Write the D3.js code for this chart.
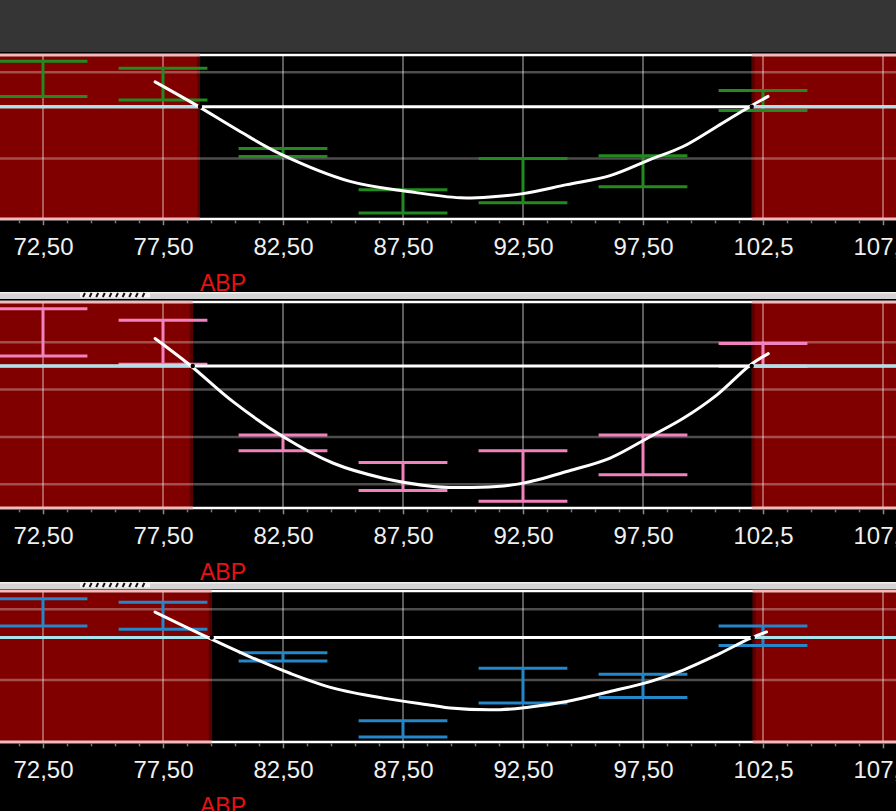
<!DOCTYPE html>
<html><head><meta charset="utf-8">
<script src="https://cdn.jsdelivr.net/npm/d3@7"></script>
<style>html,body{margin:0;padding:0;background:#000;overflow:hidden}</style>
</head><body><svg id="chart" width="896" height="811"></svg>
<script>
// ---------- data ----------
const xTickValues = [72.5, 77.5, 82.5, 87.5, 92.5, 97.5, 102.5, 107.5];
const xTickLabels = ["72,50", "77,50", "82,50", "87,50", "92,50", "97,50", "102,5", "107,5"];
const xMinorTicks = [70.5,71.5,73.5,74.5,75.5,76.5,78.5,79.5,80.5,81.5,83.5,84.5,85.5,86.5,88.5,89.5,90.5,91.5,93.5,94.5,95.5,96.5,98.5,99.5,100.5,101.5,103.5,104.5,105.5,106.5];
const axisTitle = "ABP";
const threshold = 0.3;
const binCenters = [72.5, 77.5, 82.5, 87.5, 92.5, 97.5, 102.5];
const binHalfWidth = 1.85;

// panel 1 (green)
const p1Upper = [0.564, 0.523, 0.058, -0.181, 0.000, 0.017, 0.395];
const p1Lower = [0.360, 0.339, 0.012, -0.315, -0.256, -0.163, 0.279];
const p1CurveX = [77.17, 78.90, 80.71, 82.45, 85.29, 87.79, 89.88, 91.25, 92.50, 94.33, 96.13, 97.79, 99.17, 100.58, 101.96, 102.71];
const p1CurveY = [0.444, 0.308, 0.157, 0.023, -0.132, -0.192, -0.227, -0.221, -0.203, -0.151, -0.099, -0.006, 0.070, 0.186, 0.302, 0.360];
const p1Limits = [79.04, 102.03];
const p1YDomain = [-0.35, 0.6];
const p1Grid = [0, 0.5];

// panel 2 (pink)
const p2Upper = [0.542, 0.493, 0.008, -0.108, -0.058, 0.008, 0.395];
const p2Lower = [0.342, 0.307, -0.058, -0.226, -0.272, -0.160, 0.299];
const p2CurveX = [77.17, 78.63, 80.43, 82.51, 84.60, 86.68, 88.76, 89.46, 91.40, 92.51, 94.32, 96.13, 97.79, 99.18, 100.57, 101.96, 102.72];
const p2CurveY = [0.416, 0.303, 0.148, 0.001, -0.111, -0.174, -0.209, -0.213, -0.209, -0.195, -0.146, -0.089, 0.001, 0.079, 0.177, 0.303, 0.352];
const p2Limits = [78.74, 102.03];
const p2YDomain = [-0.3, 0.57];
const p2Grid = [-0.2, 0, 0.2, 0.4];

// panel 3 (blue)
const p3Upper = [0.575, 0.551, 0.192, -0.289, 0.082, 0.040, 0.382];
const p3Lower = [0.382, 0.359, 0.134, -0.404, -0.164, -0.125, 0.244];
const p3CurveX = [77.17, 79.32, 81.13, 82.79, 84.60, 86.68, 88.76, 89.46, 91.54, 92.65, 94.32, 96.13, 97.79, 99.18, 100.57, 101.96, 102.65];
const p3CurveY = [0.481, 0.305, 0.164, 0.047, -0.058, -0.129, -0.181, -0.199, -0.211, -0.195, -0.153, -0.082, -0.012, 0.070, 0.176, 0.294, 0.340];
const p3Limits = [79.53, 102.07];
const p3YDomain = [-0.44, 0.63];
const p3Grid = [0, 0.5];

// ---------- layout / style ----------
const W = 896, H = 811;
const panels = [
  {top: 55, bottom: 219, color: "#238a1f", upper: p1Upper, lower: p1Lower, cx: p1CurveX, cy: p1CurveY, limits: p1Limits, domain: p1YDomain, grid: p1Grid},
  {top: 302, bottom: 508, color: "#f282be", upper: p2Upper, lower: p2Lower, cx: p2CurveX, cy: p2CurveY, limits: p2Limits, domain: p2YDomain, grid: p2Grid},
  {top: 591, bottom: 742, color: "#2586c8", upper: p3Upper, lower: p3Lower, cx: p3CurveX, cy: p3CurveY, limits: p3Limits, domain: p3YDomain, grid: p3Grid}
];
const separators = [[292, 299], [582, 589]];
const RED = "#800000";

const svg = d3.select("#chart");
const x = d3.scaleLinear().domain([72.5, 102.5]).range([43, 763]);

svg.append("rect").attr("x", 0).attr("y", 0).attr("width", W).attr("height", H).attr("fill", "#000");
svg.append("rect").attr("x", 0).attr("y", 0).attr("width", W).attr("height", 52).attr("fill", "#353535");

// separators
separators.forEach(([a, b]) => {
  svg.append("rect").attr("x", 0).attr("y", a).attr("width", W).attr("height", b - a).attr("fill", "#d4d4d4");
  svg.append("rect").attr("x", 0).attr("y", a).attr("width", W).attr("height", 1.5).attr("fill", "#f0f0f0");
  svg.append("rect").attr("x", 80).attr("y", a + 0.5).attr("width", 70).attr("height", 5).attr("fill", "#f4f4f4");
  const g = svg.append("g");
  for (let i = 0; i < 10; i++) {
    const sx = 83 + i * 6.6;
    g.append("line").attr("x1", sx + 2).attr("y1", a + 1).attr("x2", sx).attr("y2", a + 5)
      .attr("stroke", "#111").attr("stroke-width", 2);
  }
});

panels.forEach(p => {
  const y = d3.scaleLinear().domain(p.domain).range([p.bottom, p.top]);
  const g = svg.append("g");
  const h = p.bottom - p.top;
  const xl = x(p.limits[0]), xr = x(p.limits[1]);

  // red zones
  g.append("rect").attr("x", 0).attr("y", p.top).attr("width", xl).attr("height", h).attr("fill", RED);
  g.append("rect").attr("x", xr).attr("y", p.top).attr("width", W - xr).attr("height", h).attr("fill", RED);
  g.append("rect").attr("x", xl - 3).attr("y", p.top).attr("width", 3).attr("height", h).attr("fill", "#560000");
  g.append("rect").attr("x", xr).attr("y", p.top).attr("width", 3).attr("height", h).attr("fill", "#560000");

  // grid
  g.selectAll(".hg").data(p.grid).join("line")
    .attr("x1", 0).attr("x2", W).attr("y1", d => y(d)).attr("y2", d => y(d))
    .attr("stroke", "#fff").attr("stroke-opacity", 0.3).attr("stroke-width", 2.5);
  g.selectAll(".vg").data(xTickValues).join("line")
    .attr("x1", d => x(d)).attr("x2", d => x(d)).attr("y1", p.top).attr("y2", p.bottom)
    .attr("stroke", "#fff").attr("stroke-opacity", 0.36).attr("stroke-width", 2);

  // error bars
  const eb = g.append("g").attr("stroke", p.color).attr("stroke-width", 3).attr("fill", "none");
  binCenters.forEach((c, i) => {
    eb.append("line").attr("x1", x(c)).attr("x2", x(c)).attr("y1", y(p.upper[i])).attr("y2", y(p.lower[i]));
    eb.append("line").attr("x1", x(c - binHalfWidth)).attr("x2", x(c + binHalfWidth)).attr("y1", y(p.upper[i])).attr("y2", y(p.upper[i]));
    eb.append("line").attr("x1", x(c - binHalfWidth)).attr("x2", x(c + binHalfWidth)).attr("y1", y(p.lower[i])).attr("y2", y(p.lower[i]));
  });

  // threshold line
  const ty = y(threshold);
  g.append("line").attr("x1", 0).attr("x2", W).attr("y1", ty).attr("y2", ty).attr("stroke", "#fff").attr("stroke-width", 3);
  g.append("line").attr("x1", 0).attr("x2", xl).attr("y1", ty).attr("y2", ty).attr("stroke", "#a9e4ec").attr("stroke-width", 3);
  g.append("line").attr("x1", xr).attr("x2", W).attr("y1", ty).attr("y2", ty).attr("stroke", "#a9e4ec").attr("stroke-width", 3);

  // curve
  const pts = p.cx.map((v, i) => [v, p.cy[i]]);
  g.append("path").datum(pts)
    .attr("d", d3.line().x(d => x(d[0])).y(d => y(d[1])).curve(d3.curveCatmullRom.alpha(0.5)))
    .attr("fill", "none").attr("stroke", "#fff").attr("stroke-width", 3).attr("stroke-linecap", "round")
    .attr("stroke-linejoin", "round");
  g.selectAll(".lim").data(p.limits).join("circle")
    .attr("cx", d => x(d)).attr("cy", ty).attr("r", 2.2).attr("fill", "#000");

  // borders
  [p.top, p.bottom].forEach(by => {
    g.append("line").attr("x1", 0).attr("x2", W).attr("y1", by).attr("y2", by).attr("stroke", "#fff").attr("stroke-width", 2.6);
    g.append("line").attr("x1", 0).attr("x2", xl).attr("y1", by).attr("y2", by).attr("stroke", "#f2baba").attr("stroke-width", 2.6);
    g.append("line").attr("x1", xr).attr("x2", W).attr("y1", by).attr("y2", by).attr("stroke", "#f2baba").attr("stroke-width", 2.6);
  });

  // axis
  const axG = svg.append("g").attr("transform", `translate(0,${p.bottom + 1.3})`);
  axG.call(d3.axisBottom(x).tickValues(xTickValues).tickSize(5)
      .tickFormat((d, i) => xTickLabels[i]));
  axG.select(".domain").remove();
  axG.selectAll(".tick line").attr("stroke", "#8a8a8a").attr("stroke-width", 1.5);
  axG.selectAll(".tick text").attr("y", 34.5).attr("dy", 0)
    .attr("fill", "#f0f0f0").attr("font-family", "'Liberation Sans', Arial, sans-serif").attr("font-size", 24);
  const mG = svg.append("g").attr("transform", `translate(0,${p.bottom + 1.3})`);
  mG.call(d3.axisBottom(x).tickValues(xMinorTicks).tickSize(3).tickFormat(""));
  mG.select(".domain").remove();
  mG.selectAll(".tick line").attr("stroke", "#7a7a7a").attr("stroke-width", 1.5);

  svg.append("text").attr("x", 200).attr("y", p.bottom + 72)
    .attr("fill", "#e81212").attr("font-family", "'Liberation Sans', Arial, sans-serif")
    .attr("font-size", 23).text(axisTitle);
});
</script></body></html>
